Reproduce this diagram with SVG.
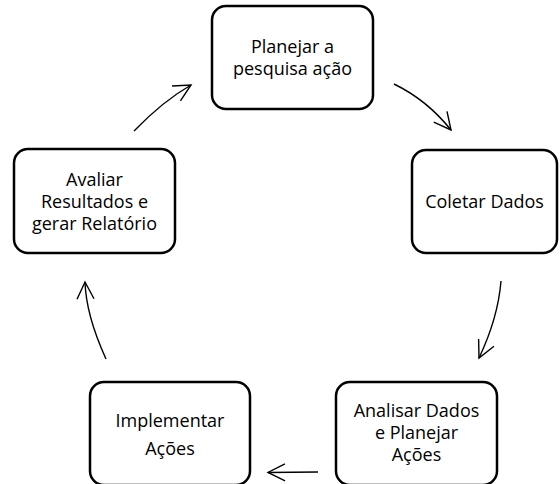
<svg xmlns="http://www.w3.org/2000/svg" width="560" height="484" viewBox="0 0 560 484">
  <style>
    .box { fill: #ffffff; stroke: #000000; stroke-width: 2.5; }
    .lbl { font-family: "Open Sans", "Noto Sans", sans-serif; font-size: 18px; fill: #000000; text-anchor: middle; }
    .arrow { fill: none; stroke: #000000; stroke-width: 1.4; marker-end: url(#chevron); }
  </style>
  <defs>
    <marker id="chevron" markerUnits="userSpaceOnUse" markerWidth="24" markerHeight="24" viewBox="-20 -12 24 24" refX="0" refY="0" orient="auto" overflow="visible">
      <path d="M-17,-8.5 L0,0 L-17,8.5" fill="none" stroke="#000000" stroke-width="1.4"/>
    </marker>
  </defs>
  <rect width="560" height="484" fill="#ffffff"/>

  <g id="connectors">
    <path class="arrow" d="M134,131 Q163,101 191,85"/>
    <path class="arrow" d="M394,84 Q427,100 451,130"/>
    <path class="arrow" d="M501,281 Q498,318 479,358"/>
    <path class="arrow" d="M318,472 L268,472.5"/>
    <path class="arrow" d="M106,359 Q86,315 85,282"/>
  </g>

  <g id="planejar">
    <rect class="box" x="212" y="6" width="161" height="103" rx="14"/>
    <text class="lbl" x="292.5" y="53">Planejar a</text>
    <text class="lbl" x="292.5" y="75">pesquisa ação</text>
  </g>

  <g id="coletar">
    <rect class="box" x="412" y="150" width="145" height="103" rx="14"/>
    <text class="lbl" x="484.5" y="208">Coletar Dados</text>
  </g>

  <g id="analisar">
    <rect class="box" x="336" y="382" width="161" height="103" rx="14"/>
    <text class="lbl" x="416.5" y="417">Analisar Dados</text>
    <text class="lbl" x="416.5" y="439">e Planejar</text>
    <text class="lbl" x="416.5" y="461">Ações</text>
  </g>

  <g id="implementar">
    <rect class="box" x="90" y="382" width="160" height="103" rx="14"/>
    <text class="lbl" x="170" y="427">Implementar</text>
    <text class="lbl" x="170" y="455">Ações</text>
  </g>

  <g id="avaliar">
    <rect class="box" x="14" y="149" width="161" height="104" rx="14"/>
    <text class="lbl" x="94.5" y="186">Avaliar</text>
    <text class="lbl" x="94.5" y="208">Resultados e</text>
    <text class="lbl" x="94.5" y="230">gerar Relatório</text>
  </g>
</svg>
